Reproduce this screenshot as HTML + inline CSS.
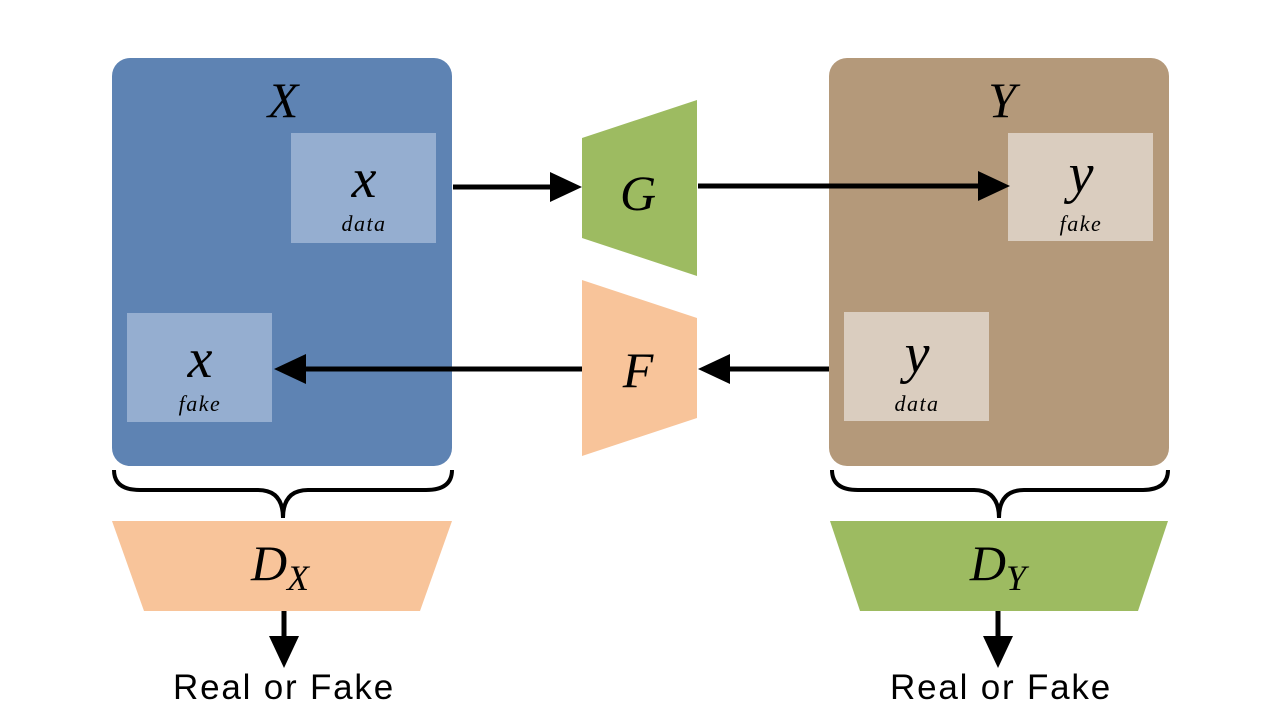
<!DOCTYPE html>
<html><head><meta charset="utf-8"><style>
html,body{margin:0;padding:0;background:#fff;width:1280px;height:720px;overflow:hidden}
.m{font-family:"Liberation Serif",serif;font-style:italic}
.s{font-family:"Liberation Sans",sans-serif}
</style></head><body>
<svg width="1280" height="720" viewBox="0 0 1280 720" xmlns="http://www.w3.org/2000/svg">
<!-- X domain -->
<rect x="112" y="58" width="340" height="408" rx="18" fill="#5e83b3"/>
<text class="m" x="283" y="117" font-size="50" text-anchor="middle" fill="#000">X</text>
<rect x="291" y="133" width="145" height="110" fill="#95aed0"/>
<text class="m" x="364" y="197" font-size="56" text-anchor="middle">x</text>
<text class="m" x="364" y="231" font-size="22" text-anchor="middle" letter-spacing="1.5">data</text>
<rect x="127" y="313" width="145" height="109" fill="#95aed0"/>
<text class="m" x="200" y="377" font-size="56" text-anchor="middle">x</text>
<text class="m" x="200" y="411" font-size="22" text-anchor="middle" letter-spacing="1.5">fake</text>
<!-- Y domain -->
<rect x="829" y="58" width="340" height="408" rx="18" fill="#b4997a"/>
<text class="m" x="1002" y="117" font-size="50" text-anchor="middle">Y</text>
<rect x="1008" y="133" width="145" height="108" fill="#dacdbf"/>
<text class="m" x="1081" y="192" font-size="56" text-anchor="middle">y</text>
<text class="m" x="1081" y="231" font-size="22" text-anchor="middle" letter-spacing="1.5">fake</text>
<rect x="844" y="312" width="145" height="109" fill="#dacdbf"/>
<text class="m" x="917" y="372" font-size="56" text-anchor="middle">y</text>
<text class="m" x="917" y="411" font-size="22" text-anchor="middle" letter-spacing="1.5">data</text>
<!-- Generators -->
<polygon points="582,138 697,100 697,276 582,238" fill="#9dbb61"/>
<text class="m" x="638" y="210" font-size="50" text-anchor="middle">G</text>
<polygon points="582,280 697,318 697,418 582,456" fill="#f8c49a"/>
<text class="m" x="638" y="387" font-size="50" text-anchor="middle">F</text>
<!-- Arrows -->
<g stroke="#000" stroke-width="5" fill="none">
<line x1="453" y1="187" x2="556" y2="187"/>
<line x1="698" y1="186" x2="984" y2="186"/>
<line x1="829" y1="369" x2="724" y2="369"/>
<line x1="582" y1="369" x2="298" y2="369"/>
<line x1="284" y1="611" x2="284" y2="642"/>
<line x1="998" y1="611" x2="998" y2="642"/>
</g>
<g fill="#000">
<polygon points="550,172 582,187 550,202"/>
<polygon points="978,171 1010,186 978,201"/>
<polygon points="730,354 698,369 730,384"/>
<polygon points="306,354 274,369 306,384"/>
<polygon points="269,636 284,668 299,636"/>
<polygon points="983,636 998,668 1013,636"/>
</g>
<!-- Braces -->
<path d="M114,470 Q114,490 140,490 L258,490 Q283,490 283,518 Q283,490 308,490 L426,490 Q452,490 452,470" stroke="#000" stroke-width="4" fill="none"/>
<path d="M832,470 Q832,490 858,490 L974,490 Q999,490 999,518 Q999,490 1024,490 L1142,490 Q1168,490 1168,470" stroke="#000" stroke-width="4" fill="none"/>
<!-- Discriminators -->
<polygon points="112,521 452,521 420,611 144,611" fill="#f8c49a"/>
<text class="m" x="280" y="580" font-size="50" text-anchor="middle">D<tspan font-size="36" dy="10">X</tspan></text>
<polygon points="830,521 1168,521 1138,611 860,611" fill="#9dbb61"/>
<text class="m" x="998" y="580" font-size="50" text-anchor="middle">D<tspan font-size="36" dy="10">Y</tspan></text>
<!-- Outputs -->
<text class="s" x="284" y="699" font-size="35" letter-spacing="1.8" text-anchor="middle">Real or Fake</text>
<text class="s" x="1001" y="699" font-size="35" letter-spacing="1.8" text-anchor="middle">Real or Fake</text>
</svg>
</body></html>
